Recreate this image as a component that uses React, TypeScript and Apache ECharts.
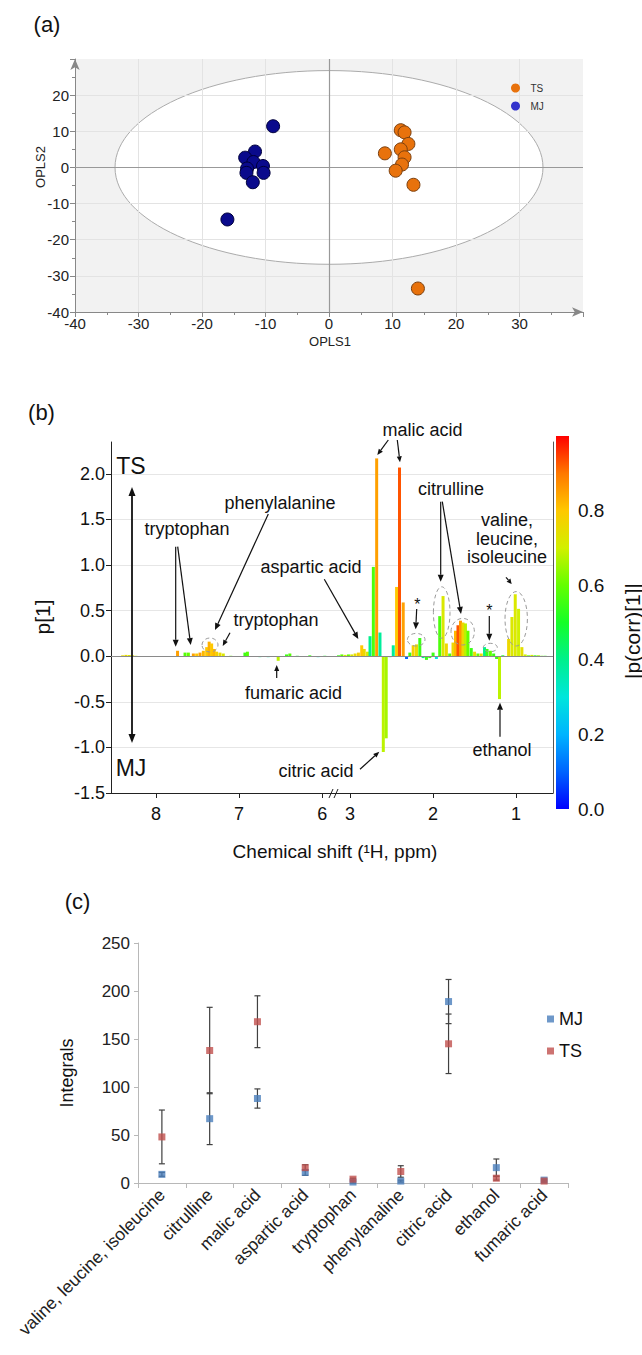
import React, { useEffect, useRef } from "react";
import * as echarts from "echarts";

const FONT = '"Liberation Sans", Arial, Helvetica, sans-serif';

// ---------- Panel (a): OPLS-DA scores ----------
const tsScores = [
  [11.3, 10.3], [11.9, 9.7], [12.5, 6.5], [11.3, 5.0], [8.8, 3.9],
  [11.9, 2.8], [11.5, 0.8], [10.5, -0.9], [13.3, -4.8], [14.0, -33.5],
];
const mjScores = [
  [-8.8, 11.4], [-11.65, 4.4], [-13.2, 2.7], [-11.9, 1.5], [-10.4, 0.4],
  [-12.9, -0.3], [-13.0, -1.5], [-10.3, -1.5], [-12.0, -4.1], [-16.0, -14.4],
];
const hotellingEllipse = [0, 0, 33.7, 26.8]; // centre x, centre y, half-width, half-height

// ---------- Panel (b): S-line loadings ----------
const aromaticShift = [8.40, 8.36, 8.32, 8.28, 8.24, 7.74, 7.65, 7.61, 7.55, 7.51, 7.47, 7.43, 7.39, 7.36, 7.33, 7.30, 7.27, 7.23, 7.19, 7.10, 6.93, 6.90, 6.80, 6.75, 6.70, 6.65, 6.53, 6.43, 6.39, 6.30, 6.25, 6.15, 6.05, 5.97, 5.90];
const aromaticLoading = [0.01, 0.015, 0.015, 0.01, 0.005, 0.06, 0.04, 0.04, 0.03, 0.03, 0.04, 0.06, 0.10, 0.16, 0.14, 0.08, 0.05, 0.04, 0.03, 0.005, 0.04, 0.05, -0.005, -0.01, -0.005, -0.01, -0.05, 0.02, 0.03, 0.005, -0.005, 0.01, -0.01, 0.005, -0.005];
const aromaticCorr = [0.75, 0.75, 0.72, 0.75, 0.7, 0.85, 0.58, 0.6, 0.85, 0.8, 0.85, 0.82, 0.8, 0.83, 0.8, 0.82, 0.78, 0.75, 0.72, 0.6, 0.55, 0.58, 0.35, 0.4, 0.3, 0.35, 0.68, 0.55, 0.58, 0.5, 0.35, 0.55, 0.3, 0.5, 0.4];

const aliphaticShift = [3.14, 3.10, 3.06, 3.02, 2.98, 2.94, 2.90, 2.86, 2.83, 2.79, 2.76, 2.72, 2.68, 2.64, 2.60, 2.565, 2.52, 2.48, 2.44, 2.405, 2.36, 2.32, 2.28, 2.24, 2.20, 2.16, 2.12, 2.08, 2.04, 2.00, 1.96, 1.92, 1.88, 1.84, 1.80, 1.76, 1.73, 1.70, 1.67, 1.64, 1.61, 1.58, 1.54, 1.50, 1.46, 1.42, 1.38, 1.35, 1.31, 1.27, 1.235, 1.20, 1.16, 1.09, 1.05, 1.01, 0.97, 0.93, 0.89, 0.85, 0.81, 0.77, 0.73, 0.69, 0.65];
const aliphaticLoading = [0.01, 0.02, 0.015, 0.02, 0.02, 0.03, 0.04, 0.12, 0.08, 0.05, 0.22, 0.98, 2.17, 0.26, -1.05, -0.90, -0.01, 0.12, 0.76, 2.07, 0.59, -0.03, 0.04, 0.12, 0.13, 0.20, -0.02, -0.04, -0.02, 0.04, -0.03, 0.44, 0.66, 0.14, 0.03, 0.15, 0.28, 0.34, 0.39, 0.37, 0.36, 0.28, 0.09, 0.05, 0.03, 0.03, 0.10, 0.08, 0.06, 0.03, -0.03, -0.47, 0.01, 0.19, 0.43, 0.68, 0.52, 0.10, 0.02, 0.01, 0.015, 0.01, 0.01, 0.005, 0.005];
const aliphaticCorr = [0.55, 0.6, 0.7, 0.6, 0.72, 0.75, 0.78, 0.8, 0.76, 0.72, 0.4, 0.57, 0.85, 0.38, 0.68, 0.66, 0.4, 0.38, 0.8, 0.93, 0.85, 0.1, 0.55, 0.78, 0.76, 0.55, 0.4, 0.55, 0.55, 0.55, 0.3, 0.57, 0.72, 0.76, 0.58, 0.76, 0.82, 0.93, 0.86, 0.76, 0.68, 0.6, 0.55, 0.75, 0.6, 0.75, 0.4, 0.55, 0.6, 0.55, 0.55, 0.68, 0.5, 0.76, 0.72, 0.72, 0.7, 0.74, 0.7, 0.6, 0.7, 0.55, 0.65, 0.6, 0.55];

const corrColors = ["#0000ff", "#0064ff", "#00b4ff", "#00e6dc", "#00f08c", "#14ff28", "#64ff00", "#d2f000", "#ffc800", "#ff7800", "#ff0000"];
const shiftTicksLeft = [6, 7, 8];
const shiftTicksRight = [1, 2, 3];

// ---------- Panel (c): integrals ----------
const metabolites = ["valine, leucine, isoleucine", "citrulline", "malic acid", "aspartic acid", "tryptophan", "phenylanaline", "citric acid", "ethanol", "fumaric acid"];
const mjMean = [9, 67, 88, 11, 1, 2, 189, 16, 3];
const mjErr = [2, 27, 10, 3, 1, 1, 23, 9, 1];
const tsMean = [48, 138, 168, 16, 4, 12, 145, 5, 2];
const tsErr = [28, 45, 27, 3, 1, 6, 31, 2, 1];

function txt(x: number, y: number, text: string, size: number, extra: any = {}) {
  return {
    type: "text", x, y, z: 100, rotation: extra.rotation || 0,
    style: { text, font: `${size}px ${FONT}`, fill: extra.fill || "#111", align: extra.align || "center", verticalAlign: "middle" },
  };
}
function arrow(x1: number, y1: number, x2: number, y2: number, head = 7, w = 3, lw = 1.2) {
  const dx = x2 - x1, dy = y2 - y1, L = Math.hypot(dx, dy);
  const ux = dx / L, uy = dy / L;
  const bx = x2 - ux * head, by = y2 - uy * head;
  return [
    { type: "line", z: 100, shape: { x1, y1, x2: bx, y2: by }, style: { stroke: "#111", lineWidth: lw } },
    { type: "polygon", z: 100, shape: { points: [[x2, y2], [bx - uy * w, by + ux * w], [bx + uy * w, by - ux * w]] }, style: { fill: "#111" } },
  ];
}
function dashEllipse(cx: number, cy: number, rx: number, ry: number) {
  return { type: "ellipse", z: 100, shape: { cx, cy, rx, ry }, style: { fill: "none", stroke: "#9a9a9a", lineWidth: 1, lineDash: [4, 3] } };
}

export default function App() {
  const ref = useRef<HTMLDivElement>(null);
  useEffect(() => {
    const chart = echarts.init(ref.current!, null, { renderer: "svg" });
    const gridA = "#e3e3e3";
    const labelA = { fontSize: 15, color: "#222", fontFamily: FONT };
    const stops = corrColors.map((c, i) => ({ offset: i / (corrColors.length - 1), color: c }));
    const leftBars = aromaticShift.map((s, i) => [s, aromaticLoading[i], aromaticCorr[i]]);
    const rightBars = aliphaticShift.map((s, i) => [s, aliphaticLoading[i], aliphaticCorr[i]]);
    const errData: number[][] = [];
    metabolites.forEach((_, i) => {
      errData.push([i, Math.max(0, mjMean[i] - mjErr[i]), mjMean[i] + mjErr[i]]);
      errData.push([i, Math.max(0, tsMean[i] - tsErr[i]), tsMean[i] + tsErr[i]]);
    });
    const zeroLine = { silent: true, symbol: "none", label: { show: false }, lineStyle: { color: "#8a8a8a", type: "solid", width: 1 } };

    const option: any = {
      animation: false,
      textStyle: { fontFamily: FONT },
      grid: [
        { left: 75, top: 59, width: 508, height: 253, show: true, backgroundColor: "#f2f2f2", borderWidth: 0, z: -5 },
        { left: 111, top: 442, width: 225, height: 351 },
        { left: 336, top: 442, width: 217, height: 351 },
        { left: 556, top: 436, width: 13, height: 373 },
        { left: 138, top: 943, width: 430, height: 240 },
      ],
      xAxis: [
        {
          gridIndex: 0, type: "value", min: -40, max: 40, interval: 10, z: 3,
          axisLine: { show: true, onZero: false, symbol: ["none", "arrow"], symbolSize: [7, 11], lineStyle: { color: "#888" } },
          axisTick: { show: true, length: 5, lineStyle: { color: "#888" } },
          minorTick: { show: true, splitNumber: 2, length: 3, lineStyle: { color: "#888" } },
          axisLabel: { ...labelA, showMaxLabel: false, margin: 4 },
          splitLine: { show: true, showMaxLine: false, showMinLine: false, lineStyle: { color: gridA } },
        },
        {
          gridIndex: 1, type: "value", inverse: true, min: 5.835, max: 8.54,
          axisLine: { show: true, onZero: false, lineStyle: { color: "#222" } },
          axisTick: { show: true, length: 5, customValues: shiftTicksLeft, lineStyle: { color: "#222" } },
          axisLabel: { fontSize: 18, color: "#111", margin: 12, customValues: shiftTicksLeft },
          splitLine: { show: false },
        },
        {
          gridIndex: 2, type: "value", inverse: true, min: 0.555, max: 3.17,
          axisLine: { show: true, onZero: false, lineStyle: { color: "#222" } },
          axisTick: { show: true, length: 5, customValues: shiftTicksRight, lineStyle: { color: "#222" } },
          axisLabel: { fontSize: 18, color: "#111", margin: 12, customValues: shiftTicksRight },
          splitLine: { show: false },
        },
        { gridIndex: 3, type: "category", data: [""], show: false },
        {
          gridIndex: 4, type: "category", data: metabolites,
          axisLine: { show: true, onZero: false, lineStyle: { color: "#b8b8b8" } },
          axisTick: { show: true, length: 5, lineStyle: { color: "#b8b8b8" } },
          axisLabel: { rotate: 45, interval: 0, fontSize: 17.5, color: "#222", margin: 9 },
        },
      ],
      yAxis: [
        {
          gridIndex: 0, type: "value", min: -40, max: 30, interval: 10, z: 3,
          axisLine: { show: true, onZero: false, symbol: ["none", "arrow"], symbolSize: [7, 11], lineStyle: { color: "#888" } },
          axisTick: { show: true, length: 5, lineStyle: { color: "#888" } },
          minorTick: { show: true, splitNumber: 2, length: 3, lineStyle: { color: "#888" } },
          axisLabel: { ...labelA, showMaxLabel: false, margin: 6 },
          splitLine: { show: true, showMaxLine: false, showMinLine: false, lineStyle: { color: gridA } },
        },
        {
          gridIndex: 1, type: "value", min: -1.5, max: 2.35, interval: 0.5,
          axisLine: { show: true, onZero: false, lineStyle: { color: "#222" } },
          axisTick: { show: true, length: 5, lineStyle: { color: "#222" } },
          axisLabel: { fontSize: 18, color: "#111", margin: 6, showMaxLabel: false, formatter: (v: number) => v.toFixed(1) },
          splitLine: { show: true, showMaxLine: false, showMinLine: false, lineStyle: { color: "#e6e6e6" } },
        },
        {
          gridIndex: 2, type: "value", position: "right", min: -1.5, max: 2.35, interval: 0.5,
          axisLine: { show: true, onZero: false, lineStyle: { color: "#555" } },
          axisTick: { show: false }, axisLabel: { show: false },
          splitLine: { show: true, showMaxLine: false, showMinLine: false, lineStyle: { color: "#e6e6e6" } },
        },
        {
          gridIndex: 3, type: "value", position: "right", min: 0, max: 1, interval: 0.2,
          axisLine: { show: false }, axisTick: { show: false }, splitLine: { show: false },
          axisLabel: { fontSize: 19, color: "#111", margin: 9, showMaxLabel: false, formatter: (v: number) => v.toFixed(1) },
        },
        {
          gridIndex: 4, type: "value", min: 0, max: 250, interval: 50,
          axisLine: { show: true, onZero: false, lineStyle: { color: "#b8b8b8" } },
          axisTick: { show: true, length: 4, lineStyle: { color: "#b8b8b8" } },
          axisLabel: { fontSize: 17, color: "#222", margin: 8 },
          splitLine: { show: false },
        },
      ],
      visualMap: [{ type: "continuous", show: false, seriesIndex: [3, 4], dimension: 2, min: 0, max: 1, inRange: { color: corrColors } }],
      legend: [
        {
          orient: "vertical", left: 506, top: 78, itemWidth: 20, itemHeight: 9, itemGap: 8,
          textStyle: { fontSize: 10, color: "#333" },
          data: [
            { name: "TS", icon: "circle", itemStyle: { color: "#e8720c", borderWidth: 0 } },
            { name: "MJ", icon: "circle", itemStyle: { color: "#3333cc", borderWidth: 0 } },
          ],
        },
        {
          orient: "vertical", left: 542, top: 1004, itemWidth: 7, itemHeight: 7, itemGap: 12,
          textStyle: { fontSize: 18, color: "#111", lineHeight: 20 },
          formatter: (n: string) => n.trim(),
          data: [{ name: "MJ ", icon: "rect" }, { name: "TS ", icon: "rect" }],
        },
      ],
      series: [
        {
          type: "custom", xAxisIndex: 0, yAxisIndex: 0, z: 1, silent: true,
          data: [hotellingEllipse], encode: { x: 0, y: 1 },
          renderItem: (_p: any, api: any) => {
            const c = api.coord([api.value(0), api.value(1)]);
            const s = api.size([api.value(2), api.value(3)]);
            return { type: "ellipse", shape: { cx: c[0], cy: c[1], rx: s[0], ry: s[1] }, style: { fill: "#ffffff", stroke: "#ababab", lineWidth: 1 } };
          },
          markLine: { ...zeroLine, lineStyle: { color: "#999", type: "solid", width: 1.2 }, data: [{ xAxis: 0 }, { yAxis: 0 }] },
        },
        {
          name: "TS", type: "scatter", xAxisIndex: 0, yAxisIndex: 0, z: 5, symbolSize: 13, data: tsScores,
          itemStyle: { color: "#e8720c", borderColor: "#7a4010", borderWidth: 1, opacity: 1 },
        },
        {
          name: "MJ", type: "scatter", xAxisIndex: 0, yAxisIndex: 0, z: 5, symbolSize: 13, data: mjScores,
          itemStyle: { color: "#0a0a8c", borderColor: "#00003a", borderWidth: 1, opacity: 1 },
        },
        {
          type: "bar", xAxisIndex: 1, yAxisIndex: 1, barWidth: 3, data: leftBars, encode: { x: 0, y: 1 },
          markLine: { ...zeroLine, data: [{ yAxis: 0 }] },
        },
        {
          type: "bar", xAxisIndex: 2, yAxisIndex: 2, barWidth: 3, data: rightBars, encode: { x: 0, y: 1 },
          markLine: { ...zeroLine, data: [{ yAxis: 0 }] },
        },
        {
          type: "bar", xAxisIndex: 3, yAxisIndex: 3, barWidth: 13, data: [1], silent: true,
          itemStyle: { color: new echarts.graphic.LinearGradient(0, 1, 0, 0, stops) },
        },
        {
          type: "custom", xAxisIndex: 4, yAxisIndex: 4, z: 3, silent: true, data: errData, encode: { x: 0, y: [1, 2] },
          renderItem: (_p: any, api: any) => {
            const a = api.coord([api.value(0), api.value(1)]);
            const b = api.coord([api.value(0), api.value(2)]);
            const cap = 3;
            const st = { stroke: "#404040", lineWidth: 1.2 };
            return {
              type: "group", children: [
                { type: "line", shape: { x1: a[0], y1: a[1], x2: b[0], y2: b[1] }, style: st },
                { type: "line", shape: { x1: a[0] - cap, y1: a[1], x2: a[0] + cap, y2: a[1] }, style: st },
                { type: "line", shape: { x1: b[0] - cap, y1: b[1], x2: b[0] + cap, y2: b[1] }, style: st },
              ],
            };
          },
        },
        { name: "MJ ", type: "scatter", xAxisIndex: 4, yAxisIndex: 4, z: 5, symbol: "rect", symbolSize: 7, data: mjMean, itemStyle: { color: "#4a7ebb" } },
        { name: "TS ", type: "scatter", xAxisIndex: 4, yAxisIndex: 4, z: 5, symbol: "rect", symbolSize: 7, data: tsMean, itemStyle: { color: "#c0504d" } },
      ],
      graphic: [
        txt(47, 24, "(a)", 22),
        txt(41.5, 412, "(b)", 22),
        txt(77.5, 901.5, "(c)", 22),
        txt(40, 167, "OPLS2", 13, { rotation: Math.PI / 2, fill: "#222" }),
        txt(330, 341, "OPLS1", 13, { fill: "#222" }),
        txt(42, 617, "p[1]", 21, { rotation: Math.PI / 2 }),
        txt(335, 851, "Chemical shift (\u00B9H, ppm)", 19),
        txt(632, 631, "|p(corr)[1]|", 21, { rotation: Math.PI / 2 }),
        txt(67, 1073, "Integrals", 18, { rotation: Math.PI / 2 }),
        txt(131, 466, "TS", 23),
        txt(131, 768, "MJ", 23),
        ...arrow(132, 600, 132, 487, 9, 3.5, 1.8),
        ...arrow(132, 600, 132, 743, 9, 3.5, 1.8),
        { type: "line", z: 100, shape: { x1: 329, y1: 798, x2: 333, y2: 789 }, style: { stroke: "#222", lineWidth: 1 } },
        { type: "line", z: 100, shape: { x1: 334, y1: 798, x2: 338, y2: 789 }, style: { stroke: "#222", lineWidth: 1 } },
        // annotations
        txt(422.5, 429.5, "malic acid", 18),
        ...arrow(388.3, 440, 377.3, 455, 6, 2.5),
        ...arrow(397.3, 440, 400, 462.3, 6, 2.5),
        txt(451, 489, "citrulline", 18),
        ...arrow(440.7, 501.7, 440.7, 581.7, 7, 3),
        ...arrow(442.3, 501.7, 461, 614, 7, 3),
        dashEllipse(441.7, 612.5, 8.3, 25.7),
        dashEllipse(462.7, 631.7, 11.7, 13.3),
        txt(507, 520, "valine,", 18),
        txt(507, 538.7, "leucine,", 18),
        txt(507, 556.7, "isoleucine", 18),
        ...arrow(506, 577.3, 511.7, 584, 5, 2.5),
        dashEllipse(516.2, 618.8, 11.2, 27.2),
        txt(417.3, 604, "*", 16),
        ...arrow(416.7, 609, 415.7, 629.3, 7, 3),
        dashEllipse(416.2, 639.7, 8.8, 6.3),
        txt(489.3, 610.5, "*", 16),
        ...arrow(489.3, 616, 489.3, 640.7, 7, 3),
        dashEllipse(490.3, 647.5, 7, 4.2),
        txt(311, 567, "aspartic acid", 18),
        ...arrow(324.3, 579.3, 358.3, 639, 7, 3),
        txt(187, 529, "tryptophan", 18),
        ...arrow(175.7, 546.7, 175.7, 646.7, 7, 3),
        ...arrow(177.7, 546.7, 190.7, 645, 7, 3),
        txt(280, 503, "phenylalanine", 18),
        ...arrow(268.3, 514, 215, 630, 7, 3),
        dashEllipse(210, 645, 8, 7),
        txt(276, 620, "tryptophan", 18),
        ...arrow(230, 632.7, 222.7, 646, 6, 2.5),
        txt(293.5, 693, "fumaric acid", 18),
        ...arrow(276.7, 678, 276.7, 665, 6, 2.5),
        txt(316, 771, "citric acid", 18),
        ...arrow(360, 769.3, 379.3, 751.7, 6, 2.5),
        txt(502, 750, "ethanol", 18),
        ...arrow(500, 736.7, 500, 702.7, 7, 3),
      ],
    };
    chart.setOption(option);
    return () => chart.dispose();
  }, []);
  return <div ref={ref} style={{ position: "absolute", left: 0, top: 0, width: 642, height: 1355, background: "#fff" }} />;
}
